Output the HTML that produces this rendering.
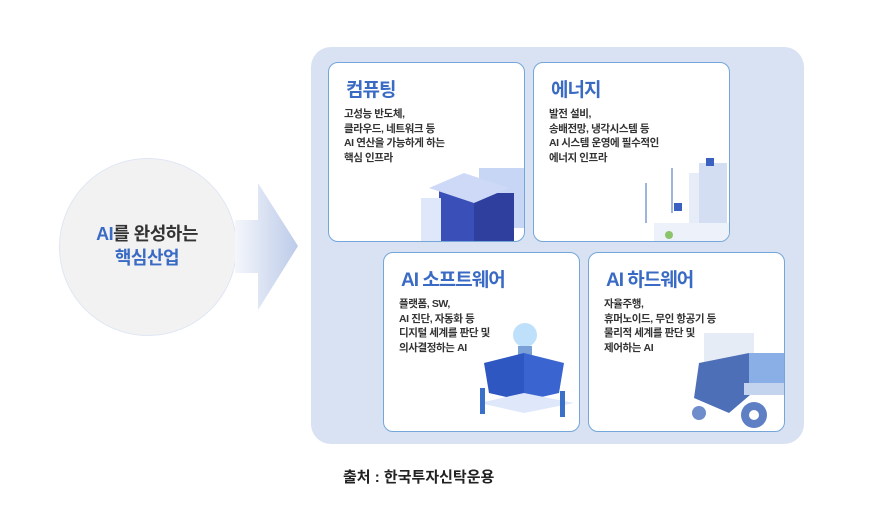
<!DOCTYPE html>
<html><head><meta charset="utf-8"><style>
body{margin:0;width:885px;height:522px;background:#fff;position:relative;overflow:hidden;font-family:"Liberation Sans","Noto Sans CJK KR",sans-serif}
.panel{position:absolute;left:311px;top:47px;width:493px;height:397px;background:#d9e2f2;border-radius:20px}
.card{position:absolute;width:195px;height:178px;background:#fff;border:1.5px solid #74a6d9;border-radius:10px;overflow:hidden}
.card h3{position:absolute;left:17px;top:12px;margin:0;font-size:19px;font-weight:bold;color:#3a6bc4;letter-spacing:-1px}
.card p{position:absolute;left:15px;top:44px;margin:0;font-size:10.5px;line-height:14.5px;font-weight:bold;color:#333;letter-spacing:-0.4px}
.card svg{position:absolute;left:0;top:0}
</style></head><body>
<div style="position:absolute;left:59px;top:158px;width:176px;height:176px;border-radius:50%;background:#f2f2f3;border:1px solid #dfe6f3"></div>
<div style="position:absolute;left:57px;top:222px;width:180px;text-align:center;font-size:18px;font-weight:bold;line-height:24px;color:#333;letter-spacing:-0.5px"><span style="color:#3a6bc4">AI</span>를 완성하는<br><span style="color:#3a6bc4">핵심산업</span></div>
<svg style="position:absolute;left:0;top:0" width="885" height="522"><defs><linearGradient id="g" x1="0" x2="1"><stop offset="0" stop-color="#f4f6fb"/><stop offset="1" stop-color="#bccbe9"/></linearGradient></defs>
<polygon points="235,220 258,220 258,183 298,246 258,310 258,273 235,273" fill="url(#g)"/></svg>
<div class="panel"></div>
<div class="card" style="left:328px;top:62px">
<svg width="195" height="178"><g fill="#9fb7ec"><polygon points="100,140 140,120 170,135 170,178 100,178"/><rect x="150" y="105" width="45" height="60" fill="#c7d6f5"/></g><rect x="110" y="128" width="35" height="50" fill="#3b4fb8"/><rect x="145" y="130" width="40" height="48" fill="#2f3f9e"/><polygon points="100,125 135,110 180,125 145,140" fill="#cdd9f7"/><rect x="92" y="135" width="20" height="43" fill="#dfe7fa"/></svg>
<h3>컴퓨팅</h3><p>고성능 반도체,<br>클라우드, 네트워크 등<br>AI 연산을 가능하게 하는<br>핵심 인프라</p></div>
<div class="card" style="left:533px;top:62px">
<svg width="195" height="178"><g stroke="#9fb4dd" stroke-width="2"><line x1="112" y1="120" x2="112" y2="160"/><line x1="138" y1="105" x2="138" y2="150"/></g><rect x="155" y="110" width="30" height="55" fill="#e6ecf8"/><rect x="165" y="100" width="28" height="70" fill="#d4def3"/><rect x="120" y="160" width="75" height="18" fill="#edf1fa"/><rect x="140" y="140" width="8" height="8" fill="#3a60c0"/><rect x="172" y="95" width="8" height="8" fill="#3a60c0"/><circle cx="135" cy="172" r="4" fill="#8cc46a"/></svg>
<h3>에너지</h3><p>발전 설비,<br>송배전망, 냉각시스템 등<br>AI 시스템 운영에 필수적인<br>에너지 인프라</p></div>
<div class="card" style="left:383px;top:252px">
<svg width="195" height="178"><circle cx="141" cy="82" r="12" fill="#bfe0fb"/><rect x="134" y="93" width="14" height="10" fill="#7aa0d8"/><polygon points="100,110 140,100 140,148 105,140" fill="#2f57c2"/><polygon points="140,100 180,110 175,140 140,148" fill="#3a65d0"/><polygon points="95,150 140,140 190,150 140,160" fill="#dfe8fa"/><rect x="96" y="135" width="5" height="26" fill="#3a70c8"/><rect x="176" y="138" width="5" height="26" fill="#3a70c8"/></svg>
<h3>AI 소프트웨어</h3><p>플랫폼, SW,<br>AI 진단, 자동화 등<br>디지털 세계를 판단 및<br>의사결정하는 AI</p></div>
<div class="card" style="left:588px;top:252px">
<svg width="195" height="178"><rect x="115" y="80" width="50" height="30" fill="#e6ecf6"/><polygon points="110,110 160,100 175,130 140,160 105,145" fill="#4c6fb8"/><rect x="160" y="100" width="35" height="30" fill="#8aaee6"/><rect x="155" y="130" width="40" height="12" fill="#c4d3ee"/><circle cx="165" cy="162" r="13" fill="#5f7fc4"/><circle cx="165" cy="162" r="5" fill="#fff"/><circle cx="110" cy="160" r="7" fill="#6f8ccb"/></svg>
<h3>AI 하드웨어</h3><p>자율주행,<br>휴머노이드, 무인 항공기 등<br>물리적 세계를 판단 및<br>제어하는 AI</p></div>
<div style="position:absolute;left:343px;top:466px;font-size:15px;font-weight:bold;color:#222">출처 : 한국투자신탁운용</div>
</body></html>
